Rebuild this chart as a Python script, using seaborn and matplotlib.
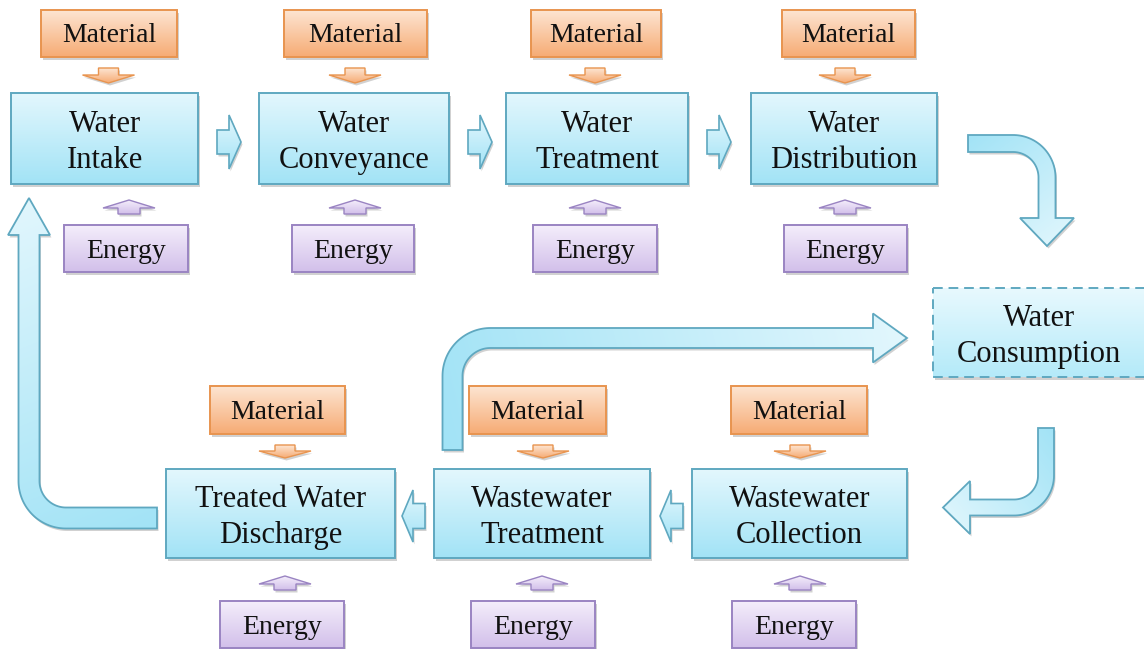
import numpy as np
import matplotlib
matplotlib.use("Agg")
import matplotlib.pyplot as plt
import seaborn as sns
from matplotlib.patches import Polygon
from matplotlib.colors import to_rgb

# ---------------- data (labels) ----------------
top_stages = ["Water\nIntake", "Water\nConveyance", "Water\nTreatment", "Water\nDistribution"]
bottom_stages = ["Treated Water\nDischarge", "Wastewater\nTreatment", "Wastewater\nCollection"]
consumption_label = "Water\nConsumption"
material_label = "Material"
energy_label = "Energy"

# ---------------- layout (pixel coordinates) ----------------
top_box_x = [(11, 198), (259, 449), (506, 688), (751, 937)]
top_box_y = (93, 184)
top_mat_x = [(41, 177), (284, 427), (531, 661), (782, 915)]
top_mat_y = (10, 57)
top_en_x = [(64, 188), (292, 414), (533, 657), (784, 907)]
top_en_y = (225, 272)
top_org_cx = [108.5, 355, 595, 845]
top_pur_cx = [129, 355, 595, 845]
top_flow_x = [(217, 241), (468, 492), (707, 731)]
top_flow_y = 142

bot_box_x = [(166, 395), (434, 650), (692, 907)]
bot_box_y = (469, 558)
bot_mat_x = [(210, 345), (469, 606), (731, 867)]
bot_mat_y = (386, 434)
bot_en_x = [(220, 344), (471, 595), (732, 856)]
bot_en_y = (601, 648)
bot_org_cx = [285, 543, 800]
bot_pur_cx = [285, 542, 800]
bot_flow_x = [(425, 402), (683, 660)]
bot_flow_y = 516

cons_box = (933, 1150, 288, 377)
cons_text_x = 1039

BLUE = ("#e3f7fd", "#a2e3f6", "#5fa8c0")
BLUE_C = ("#e8f9fe", "#b4eaf9", "#5fa8c0")
ORANGE = ("#fde5d2", "#f6ab74", "#e8944f")
PURPLE = ("#f4eefb", "#d2bfea", "#9a84c2")

sns.set_theme(style="white")
plt.rcParams["font.family"] = ["Liberation Serif", "DejaVu Serif"]

fig = plt.figure(figsize=(11.44, 6.49), dpi=100)
ax = fig.add_axes([0, 0, 1, 1])
ax.set_axis_off()


def gradient_fill(patch, c0, c1, direction=(0, 1), zorder=2, edge="#000", lw=1.4, ls="-", shadow=True):
    verts = patch.get_path().vertices
    xmin, ymin = verts.min(axis=0)
    xmax, ymax = verts.max(axis=0)
    if shadow:
        sh = Polygon(verts + np.array([1.5, 2.5]), closed=True, facecolor="#000000",
                     alpha=0.18, edgecolor="none", zorder=zorder - 0.2)
        ax.add_patch(sh)
    patch.set_facecolor("none")
    patch.set_edgecolor(edge)
    patch.set_linewidth(lw)
    patch.set_linestyle(ls)
    patch.set_zorder(zorder + 0.1)
    ax.add_patch(patch)
    n = 120
    X, Y = np.meshgrid(np.linspace(xmin, xmax, n), np.linspace(ymin, ymax, n))
    d = np.array(direction, float)
    d /= np.linalg.norm(d)
    proj = X * d[0] + Y * d[1]
    t = (proj - proj.min()) / (proj.max() - proj.min() + 1e-9)
    a, b = np.array(to_rgb(c0)), np.array(to_rgb(c1))
    img = a[None, None, :] * (1 - t[..., None]) + b[None, None, :] * t[..., None]
    im = ax.imshow(img, extent=(xmin, xmax, ymax, ymin), origin="upper",
                   aspect="auto", zorder=zorder, interpolation="bilinear")
    im.set_clip_path(patch)


def box(x0, x1, y0, y1, colors, text, fs, dy, ls="-", tx=None):
    poly = Polygon([(x0, y0), (x1, y0), (x1, y1), (x0, y1)], closed=True)
    gradient_fill(poly, colors[0], colors[1], (0, 1), edge=colors[2], ls=ls)
    if tx is None:
        tx = (x0 + x1) / 2
    ax.text(tx, (y0 + y1) / 2 + dy, text, ha="center", va="center",
            fontsize=fs, color="#111111", zorder=5, linespacing=1.32)


def straight_arrow(tail, tip, shaft_half, head_half, head_len):
    tail = np.array(tail, float)
    tip = np.array(tip, float)
    d = (tip - tail) / np.linalg.norm(tip - tail)
    p = np.array([-d[1], d[0]])
    base = tip - d * head_len
    pts = [tail + p * shaft_half, base + p * shaft_half, base + p * head_half, tip,
           base - p * head_half, base - p * shaft_half, tail - p * shaft_half]
    return np.array(pts)


def bent_arrow(start, corner, tip, r, w, hw, hl):
    start, corner, tip = (np.array(v, float) for v in (start, corner, tip))
    d1 = (corner - start) / np.linalg.norm(corner - start)
    d2 = (tip - corner) / np.linalg.norm(tip - corner)
    perp = lambda v: np.array([-v[1], v[0]])
    p1 = corner - d1 * r
    p2 = corner + d2 * r
    base = tip - d2 * hl
    center = corner - d1 * r + d2 * r
    k = perp(d1) @ d2
    th = np.linspace(0, np.pi / 2, 40)

    def edge(o):
        pts = [start + perp(d1) * o, p1 + perp(d1) * o]
        for t in th:
            u = -d2 * np.cos(t) + d1 * np.sin(t)
            pts.append(center + u * (r - k * o))
        pts += [p2 + perp(d2) * o, base + perp(d2) * o]
        return pts

    left = edge(w / 2)
    right = edge(-w / 2)
    head = [base + perp(d2) * hw, tip, base - perp(d2) * hw]
    return np.array(left + head + right[::-1])


MAIN_FS = 22
SMALL_FS = 20
MAIN_DY = 4
SMALL_DY = 2.5

# top row
for (x0, x1), lab in zip(top_box_x, top_stages):
    box(x0, x1, top_box_y[0], top_box_y[1], BLUE, lab, MAIN_FS, MAIN_DY)
for (x0, x1) in top_mat_x:
    box(x0, x1, top_mat_y[0], top_mat_y[1], ORANGE, material_label, SMALL_FS, SMALL_DY)
for (x0, x1) in top_en_x:
    box(x0, x1, top_en_y[0], top_en_y[1], PURPLE, energy_label, SMALL_FS, SMALL_DY)
for cx in top_org_cx:
    pts = straight_arrow((cx, 68), (cx, 83), 10, 26, 8)
    gradient_fill(Polygon(pts, closed=True), ORANGE[0], ORANGE[1], (0, 1), edge=ORANGE[2], lw=1.0)
for cx in top_pur_cx:
    pts = straight_arrow((cx, 214), (cx, 200), 11, 26, 8)
    gradient_fill(Polygon(pts, closed=True), PURPLE[0], PURPLE[1], (0, 1), edge=PURPLE[2], lw=1.0)
for (xa, xb) in top_flow_x:
    pts = straight_arrow((xa, top_flow_y), (xb, top_flow_y), 12, 27, 12)
    gradient_fill(Polygon(pts, closed=True), BLUE[0], BLUE[1], (0, 1), edge=BLUE[2], lw=1.2)

# bottom row
for (x0, x1), lab in zip(bot_box_x, bottom_stages):
    box(x0, x1, bot_box_y[0], bot_box_y[1], BLUE, lab, MAIN_FS, MAIN_DY)
for (x0, x1) in bot_mat_x:
    box(x0, x1, bot_mat_y[0], bot_mat_y[1], ORANGE, material_label, SMALL_FS, SMALL_DY)
for (x0, x1) in bot_en_x:
    box(x0, x1, bot_en_y[0], bot_en_y[1], PURPLE, energy_label, SMALL_FS, SMALL_DY)
for cx in bot_org_cx:
    pts = straight_arrow((cx, 445), (cx, 458), 10, 26, 7)
    gradient_fill(Polygon(pts, closed=True), ORANGE[0], ORANGE[1], (0, 1), edge=ORANGE[2], lw=1.0)
for cx in bot_pur_cx:
    pts = straight_arrow((cx, 590), (cx, 576), 11, 26, 8)
    gradient_fill(Polygon(pts, closed=True), PURPLE[0], PURPLE[1], (0, 1), edge=PURPLE[2], lw=1.0)
for (xa, xb) in bot_flow_x:
    pts = straight_arrow((xa, bot_flow_y), (xb, bot_flow_y), 12.5, 26, 11)
    gradient_fill(Polygon(pts, closed=True), BLUE[0], BLUE[1], (0, 1), edge=BLUE[2], lw=1.2)

# consumption box (dashed)
cx0, cx1, cy0, cy1 = cons_box
box(cx0, cx1, cy0, cy1, BLUE_C, consumption_label, MAIN_FS, MAIN_DY,
    ls=(0, (5, 3)), tx=cons_text_x)

# big bent arrows: (start, corner, tip, radius, width, head half-width, head length)
bent_specs = [
    ((968, 143.5), (1047, 143.5), (1047, 246), 34, 17, 27, 28),
    ((1046, 428), (1046, 507.5), (943, 507.5), 32, 16, 26.5, 27),
    ((452.5, 450), (452.5, 338), (907, 338), 38, 20, 24.5, 34),
    ((157, 518), (29, 518), (29, 198), 37, 21, 21, 37),
]
for s, c, t, r, w, hw, hl in bent_specs:
    pts = bent_arrow(s, c, t, r, w, hw, hl)
    direction = np.array(t) - np.array(s)
    gradient_fill(Polygon(pts, closed=True), BLUE[1], BLUE[0], direction,
                  edge=BLUE[2], lw=1.3)

ax.set_xlim(0, 1144)
ax.set_ylim(649, 0)
fig.savefig("out.png", dpi=100, facecolor="white")
